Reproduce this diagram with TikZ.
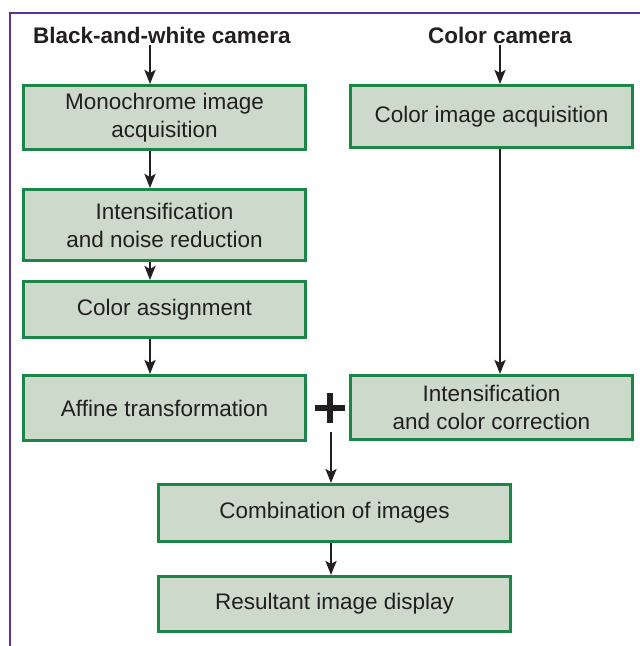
\documentclass[tikz,border=0pt]{standalone}
\usepackage{fontspec}
\setmainfont{Liberation Sans}
\usetikzlibrary{arrows.meta}
\definecolor{boxfill}{RGB}{205,217,203}
\definecolor{boxline}{RGB}{28,134,72}
\definecolor{frameline}{RGB}{92,52,152}
\definecolor{ink}{RGB}{35,31,32}

\begin{document}
\begin{tikzpicture}[x=1pt,y=-1pt,
	stage/.style={draw=boxline,fill=boxfill,line width=3pt,inner sep=0pt,align=center,
		text=ink,font=\fontsize{22.5}{28}\selectfont},
	head/.style={text=ink,inner sep=2pt,font=\fontsize{22.5}{27}\selectfont\bfseries},
	flow/.style={draw=ink,line width=2.4pt,-{Stealth[length=14pt,width=11pt,inset=3pt]}}]
	\useasboundingbox (0,0) rectangle (640,646);
	\draw[frameline,line width=2.8pt] (10,646) -- (10,13) -- (640,13);

	\node[head] (bwcam) at (162,35) {Black-and-white camera};
	\node[head] (colcam) at (500,35) {Color camera};

	\node[stage,minimum width=282pt,minimum height=64pt] (mono) at (164.5,117.5) {Monochrome image\\acquisition};
	\node[stage,minimum width=282pt,minimum height=71pt] (noise) at (164.5,225) {Intensification\\and noise reduction};
	\node[stage,minimum width=282pt,minimum height=56pt] (assign) at (164.5,309.5) {Color assignment};
	\node[stage,minimum width=282pt,minimum height=65pt] (affine) at (164.5,408) {Affine transformation};
	\node[stage,minimum width=282pt,minimum height=62pt] (colacq) at (491.5,116.5) {Color image acquisition};
	\node[stage,minimum width=282pt,minimum height=64pt] (colcor) at (491.5,407.5) {Intensification\\and color correction};
	\node[stage,minimum width=352pt,minimum height=57pt] (combine) at (334.5,513) {Combination of images};
	\node[stage,minimum width=352pt,minimum height=55pt] (result) at (334.5,604) {Resultant image display};

	\coordinate (lx) at (150,0);
	\coordinate (rx) at (500,0);
	\coordinate (plus) at (330,408);
	\coordinate (split) at (331,432);

	\draw[ink,line width=5.5pt] (plus) +(-15,0) -- +(15,0) (plus) +(0,-15) -- +(0,15);

	\draw[flow] (bwcam.south -| lx) -- (mono.north -| lx);
	\draw[flow] (mono.south -| lx) -- (noise.north -| lx);
	\draw[flow] (noise.south -| lx) -- (assign.north -| lx);
	\draw[flow] (assign.south -| lx) -- (affine.north -| lx);
	\draw[flow] (colcam.south -| rx) -- (colacq.north -| rx);
	\draw[flow] (colacq.south -| rx) -- (colcor.north -| rx);
	\draw[flow] (split) -- (combine.north -| split);
	\draw[flow] (combine.south -| split) -- (result.north -| split);
\end{tikzpicture}
\end{document}
